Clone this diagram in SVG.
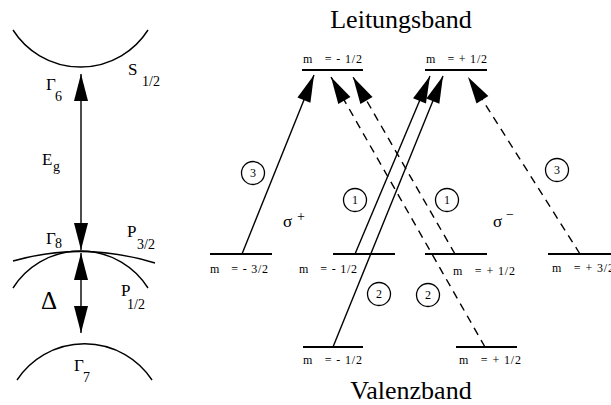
<svg xmlns="http://www.w3.org/2000/svg" width="611" height="405" viewBox="0 0 611 405">
<defs>
<marker id="ah" markerUnits="userSpaceOnUse" markerWidth="30" markerHeight="16" viewBox="-27 -8 28 16" refX="0" refY="0" orient="auto-start-reverse">
<path d="M0,0 L-27,-7 L-27,7 Z" fill="#000"/>
</marker>
</defs>
<style>
text{font-family:"Liberation Serif","Times New Roman",serif;fill:#000}
.band{fill:none;stroke:#000;stroke-width:1.4}
.lvl{stroke:#000;stroke-width:2}
.ar{fill:none;stroke:#000;stroke-width:1.4;marker-end:url(#ah)}
.dar{stroke-dasharray:8,6}
.dbl{marker-start:url(#ah)}
.circ{fill:none;stroke:#000;stroke-width:1.3}
.num{font-size:12px;text-anchor:middle}
.m{font-size:12px}
.big{font-size:26px}
.sym{font-size:17px}
.sub{font-size:14px}
</style>

<g id="band-left">
<path class="band" d="M13,30 A80,80 0 0 0 148,30"/>
<path class="band" d="M13,261 Q83,241 155,263"/>
<path class="band" d="M13,288 A80,80 0 0 1 148,288"/>
<path class="band" d="M17,380 A81,81 0 0 1 152,380"/>
<text class="sym" x="46" y="90">Γ</text><text class="sub" x="55" y="101">6</text>
<text class="sym" x="128" y="75">S</text><text class="sub" x="142" y="86">1/2</text>
<text class="sym" x="42" y="165">E</text><text class="sub" x="53" y="171">g</text>
<text class="sym" x="46" y="244">Γ</text><text class="sub" x="55" y="248">8</text>
<text class="sym" x="127" y="237">P</text><text class="sub" x="137" y="249">3/2</text>
<text style="font-size:25px" x="41" y="309">Δ</text>
<text class="sym" x="121" y="296">P</text><text class="sub" x="127" y="309">1/2</text>
<text class="sym" x="74" y="371">Γ</text><text class="sub" x="83" y="382">7</text>
</g>

<g id="levels">
<g id="lvl-c-m"><line class="lvl" x1="302" y1="70" x2="363" y2="70"/><text class="m" x="303" y="63" textLength="59" xml:space="preserve">m   = - 1/2</text></g>
<g id="lvl-c-p"><line class="lvl" x1="425" y1="70" x2="487" y2="70"/><text class="m" x="426" y="63" textLength="61" xml:space="preserve">m   = + 1/2</text></g>
<g id="lvl-hh-m"><line class="lvl" x1="210" y1="254" x2="272" y2="254"/><text class="m" x="210" y="273" textLength="58" xml:space="preserve">m   = - 3/2</text></g>
<g id="lvl-lh-m"><line class="lvl" x1="333" y1="254" x2="395" y2="254"/><text class="m" x="299" y="273" textLength="58" xml:space="preserve">m   = - 1/2</text></g>
<g id="lvl-lh-p"><line class="lvl" x1="425" y1="254" x2="487" y2="254"/><text class="m" x="453" y="275" textLength="62" xml:space="preserve">m   = + 1/2</text></g>
<g id="lvl-hh-p"><line class="lvl" x1="548" y1="254" x2="611" y2="254"/><text class="m" x="552" y="272" textLength="62" xml:space="preserve">m   = + 3/2</text></g>
<g id="lvl-so-m"><line class="lvl" x1="303" y1="347" x2="363" y2="347"/><text class="m" x="303" y="364" textLength="59" xml:space="preserve">m   = - 1/2</text></g>
<g id="lvl-so-p"><line class="lvl" x1="456" y1="347" x2="517" y2="347"/><text class="m" x="459" y="364" textLength="62" xml:space="preserve">m   = + 1/2</text></g>
</g>

<g id="titles">
<text class="big" x="401" y="28" text-anchor="middle">Leitungsband</text>
<text class="big" x="411" y="399" text-anchor="middle">Valenzband</text>
<text style="font-size:17px" x="283" y="227">σ</text><text style="font-size:14px" x="297" y="221">+</text>
<text style="font-size:17px" x="493" y="227">σ</text><text style="font-size:14px" x="506" y="219">−</text>
</g>

<g id="connectors">
<line class="ar dbl" x1="81" y1="74" x2="81" y2="250"/>
<line class="ar dbl" x1="81" y1="253" x2="81" y2="333"/>
<line class="ar" x1="242" y1="254" x2="314" y2="75"/>
<line class="ar" x1="355" y1="254" x2="430" y2="76"/>
<line class="ar" x1="333" y1="347" x2="443" y2="76"/>
<line class="ar dar" x1="455" y1="254" x2="353" y2="77"/>
<line class="ar dar" x1="485" y1="347" x2="331" y2="77"/>
<line class="ar dar" x1="580" y1="254" x2="468" y2="77"/>
</g>

<g id="labels">
<g id="c3a"><circle class="circ" cx="253" cy="173" r="11.5"/><text class="num" x="253" y="177">3</text></g>
<g id="c3b"><circle class="circ" cx="557" cy="170" r="11.5"/><text class="num" x="557" y="174">3</text></g>
<g id="c1a"><circle class="circ" cx="355" cy="200" r="11.5"/><text class="num" x="355" y="204">1</text></g>
<g id="c1b"><circle class="circ" cx="447" cy="200" r="11.5"/><text class="num" x="447" y="204">1</text></g>
<g id="c2a"><circle class="circ" cx="379" cy="294" r="11.5"/><text class="num" x="379" y="298">2</text></g>
<g id="c2b"><circle class="circ" cx="428" cy="295" r="11.5"/><text class="num" x="428" y="299">2</text></g>
</g>
</svg>
